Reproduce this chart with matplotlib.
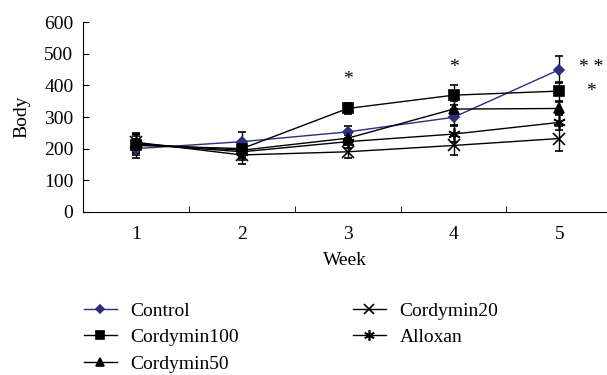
import numpy as np
import matplotlib.pyplot as plt

plt.rcParams['font.family'] = ['Liberation Serif', 'DejaVu Serif']

weeks = [1, 2, 3, 4, 5]
control = [200, 222, 253, 299, 450]
control_err = [30, 30, 20, 25, 42]
cordymin100 = [210, 200, 327, 369, 382]
cordymin100_err = [30, 25, 18, 32, 30]
cordymin50 = [215, 195, 233, 325, 327]
cordymin50_err = [30, 25, 15, 25, 20]
cordymin20 = [220, 180, 190, 210, 232]
cordymin20_err = [30, 30, 20, 30, 40]
alloxan = [215, 190, 222, 246, 283]
alloxan_err = [30, 25, 20, 25, 25]

sig_x = [3, 4, 5.3, 5.3]
sig_y = [420, 455, 455, 380]
sig_text = ["*", "*", "* *", "*"]

fs = 14

fig = plt.figure(figsize=(6.07, 3.75), dpi=100)
ax = fig.add_axes([0.137, 0.435, 0.863, 0.506])

navy = "#2b2f7f"
series = [
    ("Control", control, control_err, navy, "D", 5),
    ("Cordymin100", cordymin100, cordymin100_err, "black", "s", 7),
    ("Cordymin50", cordymin50, cordymin50_err, "black", "^", 7),
    ("Cordymin20", cordymin20, cordymin20_err, "black", "x", 9),
    ("Alloxan", alloxan, alloxan_err, "black", (6, 2, 0), 9),
]

handles = []
for name, vals, err, col, mk, ms in series:
    cont = ax.errorbar(weeks, vals, yerr=err, color=col, ecolor="black", elinewidth=1,
                       capsize=3, capthick=1, lw=1, marker=mk, ms=ms, mew=1.2,
                       label=name)
    handles.append(cont[0])

for x, y, t in zip(sig_x, sig_y, sig_text):
    ax.text(x, y, t, ha="center", va="center", fontsize=fs)

ax.set_xlim(0.5, 5.45)
ax.set_ylim(0, 600)
ax.set_yticks(np.arange(0, 601, 100))
ax.set_xticks(weeks)
ax.set_xticks([1.5, 2.5, 3.5, 4.5], minor=True)
ax.tick_params(axis="x", which="major", length=0, labelsize=fs, pad=10)
ax.tick_params(axis="x", which="minor", direction="in", length=4)
ax.tick_params(axis="y", direction="in", length=4, labelsize=fs, pad=7)
ax.spines["top"].set_visible(False)
ax.spines["right"].set_visible(False)
ax.set_xlabel("Week", fontsize=fs, labelpad=7)
ax.set_ylabel("Body", fontsize=fs, labelpad=10)

labels = [s[0] for s in series]
fig.legend(handles, labels, ncol=2, loc="upper left", bbox_to_anchor=(0.138, 0.194),
           frameon=False, fontsize=fs, handlelength=1.7, columnspacing=5.85,
           labelspacing=0.45, handletextpad=0.7, borderpad=0, borderaxespad=0,
           markerscale=0.85)

fig.savefig("out.png", dpi=100)
